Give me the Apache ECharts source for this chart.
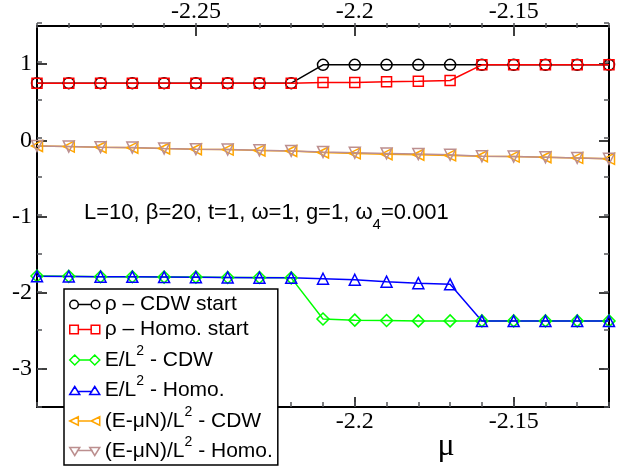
<!DOCTYPE html>
<html>
<head>
<meta charset="utf-8">
<script src="https://cdn.jsdelivr.net/npm/echarts@6/dist/echarts.min.js"></script>
<style>
html, body { margin: 0; padding: 0; background: #fff; }
#main { width: 629px; height: 472px; }
</style>
</head>
<body>
<div id="main"></div>
<script>
// chemical potential mu (x axis)
var mu = [-2.30, -2.29, -2.28, -2.27, -2.26, -2.25, -2.24, -2.23, -2.22, -2.21,
          -2.20, -2.19, -2.18, -2.17, -2.16, -2.15, -2.14, -2.13, -2.12];

var rhoCDW  = [0.75, 0.75, 0.75, 0.75, 0.75, 0.75, 0.75, 0.75, 0.75, 0.99,
               0.99, 0.99, 0.99, 0.99, 0.99, 0.99, 0.99, 0.99, 0.99];
var rhoHomo = [0.75, 0.75, 0.75, 0.75, 0.75, 0.75, 0.75, 0.75, 0.75, 0.76,
               0.76, 0.77, 0.775, 0.785, 0.99, 0.99, 0.99, 0.99, 0.99];
var eCDW    = [-1.78, -1.785, -1.79, -1.79, -1.795, -1.795, -1.80, -1.80, -1.805, -2.345,
               -2.36, -2.365, -2.37, -2.37, -2.37, -2.37, -2.37, -2.37, -2.37];
var eHomo   = [-1.785, -1.787, -1.79, -1.792, -1.795, -1.797, -1.80, -1.803, -1.805, -1.817,
               -1.83, -1.855, -1.875, -1.89, -2.372, -2.372, -2.372, -2.372, -2.372];
var gCDW    = [-0.074, -0.083, -0.091, -0.097, -0.108, -0.117, -0.122, -0.133, -0.14, -0.16,
               -0.172, -0.182, -0.19, -0.198, -0.209, -0.214, -0.222, -0.231, -0.243];
var gHomo   = [-0.074, -0.082, -0.09, -0.096, -0.107, -0.116, -0.121, -0.132, -0.139, -0.153,
               -0.163, -0.172, -0.181, -0.19, -0.209, -0.214, -0.222, -0.231, -0.243];

var xMajor = [-2.25, -2.2, -2.15];
var yMajor = [-3, -2, -1, 0, 1];

var myChart = echarts.init(document.getElementById("main"), null, { width: 629, height: 472 });

function pairs(ys) {
    return mu.map(function (x, i) { return [x, ys[i]]; });
}

// legend icons: symbol - line - symbol, like the grace legend
var icons = {
    circle: "path://M1,5A4,4,0,1,1,9,5A4,4,0,1,1,1,5Z M9,5L21,5 M21,5A4,4,0,1,1,29,5A4,4,0,1,1,21,5Z",
    rect: "path://M1,1L9,1L9,9L1,9Z M9,5L21,5 M21,1L29,1L29,9L21,9Z",
    diamond: "path://M0,5L5,0L10,5L5,10Z M10,5L20,5 M20,5L25,0L30,5L25,10Z",
    up: "path://M0,9L5,1L10,9Z M7,6L23,6 M20,9L25,1L30,9Z",
    left: "path://M1,5L9,1L9,9Z M9,5L21,5 M21,5L29,1L29,9Z",
    down: "path://M0,1L10,1L5,9Z M7,4L23,4 M20,1L30,1L25,9Z"
};

function makeSeries(name, ys, color, symbol, size, rotate) {
    return {
        name: name,
        type: "line",
        data: pairs(ys),
        symbol: symbol,
        symbolSize: size,
        symbolRotate: rotate || 0,
        lineStyle: { color: color, width: 1.5 },
        itemStyle: { color: "transparent", borderColor: color, borderWidth: 1.5 },
        emphasis: { disabled: true },
        z: 3
    };
}

var serifLabel = { fontFamily: "Liberation Serif", fontSize: 24, color: "#000" };
var frame = { show: true, onZero: false, lineStyle: { color: "#000", width: 2 } };
var noLine = { show: false, onZero: false };

var option = {
    animation: false,
    backgroundColor: "#fff",
    grid: [
        { left: 37, right: 20, top: 23, bottom: 65 },
        { left: 37, right: 20, top: 23, bottom: 65 }
    ],
    xAxis: [
        {
            type: "value", gridIndex: 0, position: "bottom", min: -2.30, max: -2.12,
            axisLine: frame, splitLine: { show: false },
            axisTick: { inside: true, length: 10, customValues: xMajor, lineStyle: { width: 1.5 } },
            axisLabel: Object.assign({ customValues: xMajor, margin: 3 }, serifLabel)
        },
        {
            type: "value", gridIndex: 0, position: "top", min: -2.30, max: -2.12,
            axisLine: frame, splitLine: { show: false },
            axisTick: { inside: true, length: 10, customValues: xMajor, lineStyle: { width: 1.5 } },
            axisLabel: Object.assign({ customValues: xMajor, margin: 2 }, serifLabel)
        },
        {
            type: "value", gridIndex: 1, position: "bottom", min: -2.30, max: -2.12, interval: 0.01,
            axisLine: noLine, splitLine: { show: false }, axisLabel: { show: false },
            axisTick: { inside: true, length: 5, lineStyle: { width: 1.5 } }
        },
        {
            type: "value", gridIndex: 1, position: "top", min: -2.30, max: -2.12, interval: 0.01,
            axisLine: noLine, splitLine: { show: false }, axisLabel: { show: false },
            axisTick: { inside: true, length: 5, lineStyle: { width: 1.5 } }
        }
    ],
    yAxis: [
        {
            type: "value", gridIndex: 0, position: "left", min: -3.5, max: 1.5,
            axisLine: frame, splitLine: { show: false },
            axisTick: { inside: true, length: 10, customValues: yMajor, lineStyle: { width: 1.5 } },
            axisLabel: Object.assign({ customValues: yMajor, margin: 5 }, serifLabel)
        },
        {
            type: "value", gridIndex: 0, position: "right", min: -3.5, max: 1.5,
            axisLine: frame, splitLine: { show: false },
            axisTick: { inside: true, length: 10, customValues: yMajor, lineStyle: { width: 1.5 } },
            axisLabel: { show: false }
        },
        {
            type: "value", gridIndex: 1, position: "left", min: -3.5, max: 1.5, interval: 0.5,
            axisLine: noLine, splitLine: { show: false }, axisLabel: { show: false },
            axisTick: { inside: true, length: 5, lineStyle: { width: 1.5 } }
        },
        {
            type: "value", gridIndex: 1, position: "right", min: -3.5, max: 1.5, interval: 0.5,
            axisLine: noLine, splitLine: { show: false }, axisLabel: { show: false },
            axisTick: { inside: true, length: 5, lineStyle: { width: 1.5 } }
        }
    ],
    legend: {
        orient: "vertical",
        left: 64,
        top: 289,
        padding: [5, 5, 3, 5],
        itemGap: 4,
        itemWidth: 30,
        itemHeight: 10,
        backgroundColor: "#fff",
        borderColor: "#000",
        borderWidth: 1.5,
        borderRadius: 0,
        z: 10,
        itemStyle: { color: "transparent", borderWidth: 1.5 },
        data: [
            { name: "ρ – CDW start", icon: icons.circle },
            { name: "ρ – Homo. start", icon: icons.rect },
            { name: "E/L2 - CDW", icon: icons.diamond },
            { name: "E/L2 - Homo.", icon: icons.up },
            { name: "(E-μN)/L2 - CDW", icon: icons.left },
            { name: "(E-μN)/L2 - Homo.", icon: icons.down }
        ],
        textStyle: {
            fontFamily: "Liberation Sans",
            fontSize: 21,
            color: "#000",
            rich: {
                sup: { fontFamily: "Liberation Sans", fontSize: 14, color: "#000", padding: [0, 0, 18, 0] }
            }
        },
        formatter: function (name) {
            return name.replace("L2", "L{sup|2}");
        }
    },
    graphic: [
        {
            type: "text",
            x: 84,
            y: 213,
            style: {
                text: "L=10, β=20, t=1, ω=1, g=1, ω{sub|4}=0.001",
                fontFamily: "Liberation Sans",
                fontSize: 22,
                fill: "#000",
                verticalAlign: "middle",
                rich: {
                    sub: { fontFamily: "Liberation Sans", fontSize: 15, padding: [24, 0, 0, 0] }
                }
            }
        },
        {
            type: "text",
            x: 446,
            y: 447,
            style: {
                text: "μ",
                fontFamily: "Liberation Serif",
                fontSize: 32,
                fill: "#000",
                align: "center",
                verticalAlign: "middle"
            }
        }
    ],
    series: [
        makeSeries("ρ – CDW start", rhoCDW, "#000000", "circle", 11),
        makeSeries("ρ – Homo. start", rhoHomo, "#ff0000", "rect", 10),
        makeSeries("E/L2 - CDW", eCDW, "#00ff00", "diamond", 12),
        makeSeries("E/L2 - Homo.", eHomo, "#0000ff", "triangle", 11),
        makeSeries("(E-μN)/L2 - CDW", gCDW, "#ffa500", "triangle", 11, 90),
        makeSeries("(E-μN)/L2 - Homo.", gHomo, "#bc8f8f", "triangle", 11, 180)
    ]
};

myChart.setOption(option);
</script>
</body>
</html>
